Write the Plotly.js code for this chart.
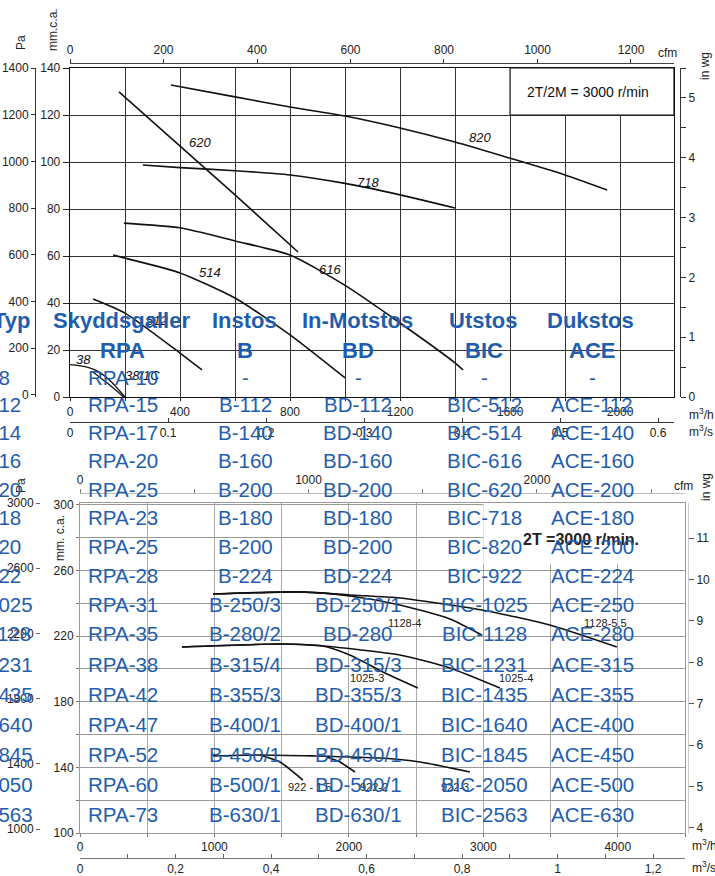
<!DOCTYPE html>
<html><head><meta charset="utf-8">
<script src="https://cdn.plot.ly/plotly-3.0.1.min.js"></script>
<style>html,body{margin:0;padding:0;background:#fff;}#chart{width:715px;height:876px;}</style>
</head><body><div id="chart"></div>
<script>
// ---------- DATA ----------
// Upper chart: flow (m3/h) vs static pressure (mm c.a.)
const c820_q = [367, 600, 800, 1000, 1200, 1400, 1600, 1800, 1953];
const c820_p = [132.8, 127.7, 123.4, 119.6, 114.5, 108.5, 101.6, 94.5, 88.1];
const c718_q = [265, 400, 600, 800, 1000, 1200, 1400];
const c718_p = [98.7, 97.6, 96.3, 94.5, 90.9, 86, 80.4];
const c620_q = [178, 400, 600, 829];
const c620_p = [129.8, 106.8, 86, 61.7];
const c616_q = [196, 400, 600, 800, 1000, 1200, 1400, 1429];
const c616_p = [74, 72, 66.4, 60.4, 47.5, 31.5, 14.5, 11.5];
const c514_q = [157, 200, 400, 600, 800, 1000];
const c514_p = [60.4, 59.1, 52.8, 42.1, 26.4, 8.1];
const c512_q = [84, 200, 400, 480];
const c512_p = [41.7, 35.7, 18.7, 11.5];
const c38_q = [0, 50, 100, 150, 200];
const c38_p = [13.8, 13, 11, 6.5, 0];
const c381_q = [80, 140, 195];
const c381_p = [11, 5.5, 0];

// Lower chart
const c1128_4_q = [989, 1636, 2007, 2379, 2751, 2989];
const c1128_4_p = [245.7, 247, 244.5, 239, 230.5, 220.7];
const c1128_55_q = [989, 1636, 2007, 2379, 2989, 3494, 3993];
const c1128_55_p = [245.7, 247, 245.1, 243.3, 236, 226.8, 213.4];
const c1025_3_q = [758, 1487, 1807, 2007, 2253, 2513];
const c1025_3_p = [213.4, 215.2, 214, 208.5, 198.2, 188.4];
const c1025_4_q = [758, 1487, 1807, 2379, 2751, 3123];
const c1025_4_p = [213.4, 215.2, 214, 208.5, 200.6, 188.4];
const c922_3_q = [989, 1338, 1732, 2230, 2528, 2900];
const c922_3_p = [147, 147.6, 147, 145.7, 143.3, 137.2];
const c922_15_q = [1338, 1487, 1658];
const c922_15_p = [147.6, 143.3, 132.3];
const c922_2_q = [1836, 1933, 2045];
const c922_2_p = [146.3, 143.3, 137.2];

// Tick values
const topQTicks = [0, 200, 400, 600, 800, 1000, 1200, 1400, 1600, 1800, 2000];
const topQLabels = ['0', '', '400', '', '800', '', '1200', '', '1600', '', '2000'];
const topMmTicks = [0, 20, 40, 60, 80, 100, 120, 140];
const topPaTicks = [0, 200, 400, 600, 800, 1000, 1200, 1400];
const topCfmTicks = [0, 200, 400, 600, 800, 1000, 1200];
const topM3sTicks = [0, 0.1, 0.2, 0.3, 0.4, 0.5, 0.6];
const topM3sLabels = ['0', '0.1', '0.2', '0.3', '0.4', '0.5', '0.6'];
const topWgTicks = [0, 0.5, 1, 1.5, 2, 2.5, 3, 3.5, 4, 4.5, 5, 5.5];
const topWgLabels = ['0', '', '1', '', '2', '', '3', '', '4', '', '5', ''];

const botQTicks = [0, 500, 1000, 1500, 2000, 2500, 3000, 3500, 4000, 4500];
const botQLabels = ['0', '', '1000', '', '2000', '', '3000', '', '4000', ''];
const botMmTicks = [100, 120, 140, 160, 180, 200, 220, 240, 260, 280, 300];
const botMmLabels = ['100', '', '140', '', '180', '', '220', '', '260', '', '300'];
const botPaTicks = [1000, 1400, 1800, 2200, 2600, 3000];
const botCfmTicks = [0, 500, 1000, 1500, 2000, 2500];
const botCfmLabels = ['0', '', '1000', '', '2000', ''];
const botM3sTicks = [0, 0.1, 0.2, 0.3, 0.4, 0.5, 0.6, 0.7, 0.8, 0.9, 1.0, 1.1, 1.2];
const botM3sLabels = ['0', '', '0,2', '', '0,4', '', '0,6', '', '0,8', '', '1', '', '1,2'];
const botWgTicks = [4, 5, 6, 7, 8, 9, 10, 11];

// Table
const tblHead = ['Typ', 'Skyddsgaller', 'Instos', 'In-Motstos', 'Utstos', 'Dukstos'];
const tblSub = ['RPA', 'B', 'BD', 'BIC', 'ACE'];
const typ = ['38','512','514','616','620','718','820','922','1025','1128','1231','1435','1640','1845','2050','2563'];
const rpa = ['RPA-10','RPA-15','RPA-17','RPA-20','RPA-25','RPA-23','RPA-25','RPA-28','RPA-31','RPA-35','RPA-38','RPA-42','RPA-47','RPA-52','RPA-60','RPA-73'];
const instos = ['-','B-112','B-140','B-160','B-200','B-180','B-200','B-224','B-250/3','B-280/2','B-315/4','B-355/3','B-400/1','B-450/1','B-500/1','B-630/1'];
const inmot = ['-','BD-112','BD-140','BD-160','BD-200','BD-180','BD-200','BD-224','BD-250/1','BD-280','BD-315/3','BD-355/3','BD-400/1','BD-450/1','BD-500/1','BD-630/1'];
const utstos = ['-','BIC-512','BIC-514','BIC-616','BIC-620','BIC-718','BIC-820','BIC-922','BIC-1025','BIC-1128','BIC-1231','BIC-1435','BIC-1640','BIC-1845','BIC-2050','BIC-2563'];
const dukstos = ['-','ACE-112','ACE-140','ACE-160','ACE-200','ACE-180','ACE-200','ACE-224','ACE-250','ACE-280','ACE-315','ACE-355','ACE-400','ACE-450','ACE-500','ACE-630'];

// ---------- LAYOUT HELPERS ----------
const W = 715, H = 876;
const fx = p => p / W, fy = p => 1 - p / H;
const FONT = 'Liberation Sans, Arial, Helvetica, sans-serif';
const tickFont = {family: FONT, size: 12, color: '#222'};
const BLUE = '#1f5eae';

function curve(q, p, xa, ya, w, shape) {
  return {type: 'scatter', mode: 'lines', x: q, y: p, xaxis: xa, yaxis: ya,
    line: {color: '#111', width: w || 1.6, shape: shape || 'spline', smoothing: 0.6},
    showlegend: false, hoverinfo: 'skip'};
}
function dummy(xa, ya) {
  return {type: 'scatter', mode: 'markers', x: [null], y: [null], xaxis: xa, yaxis: ya,
    showlegend: false, hoverinfo: 'skip'};
}

const traces = [
  curve(c820_q, c820_p, 'x', 'y'), curve(c718_q, c718_p, 'x', 'y'),
  curve(c620_q, c620_p, 'x', 'y', 1.6, 'linear'), curve(c616_q, c616_p, 'x', 'y'),
  curve(c514_q, c514_p, 'x', 'y'), curve(c512_q, c512_p, 'x', 'y'),
  curve(c38_q, c38_p, 'x', 'y', 1.3), curve(c381_q, c381_p, 'x', 'y', 1.3),
  curve(c1128_4_q, c1128_4_p, 'x4', 'y4'), curve(c1128_55_q, c1128_55_p, 'x4', 'y4'),
  curve(c1025_3_q, c1025_3_p, 'x4', 'y4'), curve(c1025_4_q, c1025_4_p, 'x4', 'y4'),
  curve(c922_3_q, c922_3_p, 'x4', 'y4'), curve(c922_15_q, c922_15_p, 'x4', 'y4'),
  curve(c922_2_q, c922_2_p, 'x4', 'y4'),
  dummy('x2', 'y'), dummy('x3', 'y'), dummy('x', 'y2'), dummy('x', 'y3'),
  dummy('x5', 'y4'), dummy('x6', 'y4'), dummy('x4', 'y5'), dummy('x4', 'y6')
];

const base = {zeroline: false, fixedrange: true, tickfont: tickFont, showgrid: false, tickmode: 'array'};

const layout = {
  width: W, height: H, margin: {l: 0, r: 0, t: 0, b: 0, pad: 0},
  paper_bgcolor: '#fff', plot_bgcolor: 'rgba(0,0,0,0)', showlegend: false,
  font: {family: FONT, color: '#222'},
  // ---- upper chart ----
  xaxis: Object.assign({}, base, {domain: [fx(70), fx(674)], range: [0, 2196], anchor: 'y',
    tickvals: topQTicks, ticktext: topQLabels, ticks: 'outside', ticklen: 3, tickcolor: '#222',
    showline: true, linecolor: '#111', linewidth: 1.3, mirror: true,
    showgrid: true, gridcolor: '#333', gridwidth: 1}),
  yaxis: Object.assign({}, base, {domain: [fy(397), fy(68)], range: [0, 140], anchor: 'x',
    tickvals: topMmTicks, ticks: 'outside', ticklen: 6, tickcolor: '#222',
    showline: true, linecolor: '#111', linewidth: 1.3, mirror: true,
    showgrid: true, gridcolor: '#333', gridwidth: 1}),
  xaxis2: Object.assign({}, base, {overlaying: 'x', anchor: 'free', position: fy(63), side: 'top',
    range: [0, 1292], tickvals: topCfmTicks, ticks: 'outside', ticklen: 4, tickcolor: '#333',
    showline: true, linecolor: '#444', linewidth: 1}),
  xaxis3: Object.assign({}, base, {overlaying: 'x', anchor: 'free', position: fy(422), side: 'bottom',
    range: [0, 0.6163], tickvals: topM3sTicks, ticktext: topM3sLabels, ticks: 'inside', ticklen: 4,
    tickcolor: '#333', showline: true, linecolor: '#333', linewidth: 1}),
  yaxis2: Object.assign({}, base, {overlaying: 'y', anchor: 'free', position: fx(35), side: 'left',
    range: [-9, 1400.5], tickvals: topPaTicks, ticks: 'outside', ticklen: 4, tickcolor: '#333',
    showline: true, linecolor: '#333', linewidth: 1}),
  yaxis3: Object.assign({}, base, {overlaying: 'y', anchor: 'free', position: fx(680), side: 'right',
    range: [0, 5.5], tickvals: topWgTicks, ticktext: topWgLabels, ticks: 'outside', ticklen: 5,
    tickcolor: '#333', showline: true, linecolor: '#333', linewidth: 1}),
  // ---- lower chart ----
  xaxis4: Object.assign({}, base, {domain: [fx(80), fx(685)], range: [0, 4500], anchor: 'y4',
    tickvals: botQTicks, ticktext: botQLabels, ticks: 'outside', ticklen: 3, tickcolor: '#777',
    showline: true, linecolor: '#999', linewidth: 1, mirror: true,
    showgrid: true, gridcolor: '#aaa', gridwidth: 1}),
  yaxis4: Object.assign({}, base, {domain: [fy(833), fy(503)], range: [100, 301.2], anchor: 'x4',
    tickvals: botMmTicks, ticktext: botMmLabels, ticks: 'outside', ticklen: 3, tickcolor: '#777',
    showline: true, linecolor: '#999', linewidth: 1, mirror: true,
    showgrid: true, gridcolor: '#999', gridwidth: 1}),
  xaxis5: Object.assign({}, base, {overlaying: 'x4', anchor: 'free', position: fy(493), side: 'top',
    range: [0, 2648], tickvals: botCfmTicks, ticktext: botCfmLabels, ticks: 'outside', ticklen: 4,
    tickcolor: '#777', showline: true, linecolor: '#bbb', linewidth: 1}),
  xaxis6: Object.assign({}, base, {overlaying: 'x4', anchor: 'free', position: fy(858), side: 'bottom',
    range: [0, 1.267], tickvals: botM3sTicks, ticktext: botM3sLabels, ticks: 'inside', ticklen: 4,
    tickcolor: '#666', showline: true, linecolor: '#777', linewidth: 1}),
  yaxis5: Object.assign({}, base, {overlaying: 'y4', anchor: 'free', position: fx(40), side: 'left',
    range: [975.5, 3000.5], tickvals: botPaTicks, ticks: 'outside', ticklen: 4, tickcolor: '#666',
    showline: false}),
  yaxis6: Object.assign({}, base, {overlaying: 'y4', anchor: 'free', position: fx(688), side: 'right',
    range: [3.879, 11.845], tickvals: botWgTicks, ticks: 'outside', ticklen: 5, tickcolor: '#555',
    showline: true, linecolor: '#ccc', linewidth: 1}),
  shapes: [
    {type: 'rect', xref: 'x', yref: 'y', x0: 1600, x1: 2196, y0: 120, y1: 140,
      fillcolor: '#fff', line: {color: '#111', width: 1.2}, layer: 'above'},
    {type: 'rect', xref: 'x4', yref: 'y4', x0: 3000, x1: 4500, y0: 264, y1: 301.2,
      fillcolor: '#fff', line: {width: 0}, layer: 'above'}
  ],
  annotations: []
};

const A = layout.annotations;
function txt(text, x, y, opt) {
  A.push(Object.assign({text: text, xref: 'paper', yref: 'paper', x: fx(x), y: fy(y),
    showarrow: false, xanchor: 'center', yanchor: 'middle',
    font: {family: FONT, size: 12, color: '#222'}}, opt || {}));
}
// axis titles
txt('Pa', 21, 43, {textangle: -90});
txt('mm.c.a.', 53, 30, {textangle: -90});
txt('cfm', 667, 53);
txt('in wg', 705, 66, {textangle: -90});
txt('m<sup>3</sup>/h', 687, 414, {xanchor: 'left'});
txt('m<sup>3</sup>/s', 687, 431, {xanchor: 'left'});
txt('Pa', 21, 486, {textangle: -90});
txt('mm. c.a.', 60, 538, {textangle: -90});
txt('cfm', 683, 486);
txt('in wg', 706, 487, {textangle: -90});
txt('m<sup>3</sup>/h', 690, 845, {xanchor: 'left'});
txt('m<sup>3</sup>/s', 690, 867, {xanchor: 'left'});
// boxes
txt('2T/2M = 3000 r/min', 588, 92, {font: {family: FONT, size: 14, color: '#111'}});
txt('<b>2T =3000 r/min.</b>', 581, 539, {font: {family: FONT, size: 16, color: '#222'}});
// curve labels (upper)
const itf = {family: FONT, size: 13, color: '#111'};
txt('<i>620</i>', 200, 142, {font: itf});
txt('<i>718</i>', 368, 182, {font: itf});
txt('<i>820</i>', 480, 137, {font: itf});
txt('<i>514</i>', 210, 272, {font: itf});
txt('<i>616</i>', 330, 269, {font: itf});
txt('<i>512</i>', 157, 320, {font: itf});
txt('<i>38</i>', 83, 359, {font: itf});
txt('<i>38/1C</i>', 142, 375, {font: itf});
// curve labels (lower)
const lf = {family: FONT, size: 11, color: '#222'};
txt('1128-4', 404, 623, {font: lf});
txt('1128-5.5', 605, 623, {font: lf});
txt('1025-3', 367, 678, {font: lf});
txt('1025-4', 516, 678, {font: lf});
txt('922 - 1.5', 309, 787, {font: lf});
txt('922-2', 374, 787, {font: lf});
txt('922-3', 455, 787, {font: lf});

// table
const hf = {family: FONT, size: 22, color: BLUE};
const df = {family: FONT, size: 20.5, color: BLUE};
const headX = [-9, 121, 244, 357, 483, 590];
const colX = [123, 245, 358, 484, 592];
const rowY = [377, 405, 432, 461, 489, 517, 546, 575, 604, 633, 664, 694, 724, 754, 784, 814];
tblHead.forEach((t, i) => txt('<b>' + t + '</b>', headX[i], 320,
  {font: hf, xanchor: i === 0 ? 'left' : 'center'}));
tblSub.forEach((t, i) => txt('<b>' + t + '</b>', colX[i], 351, {font: hf}));
const cols = [rpa, instos, inmot, utstos, dukstos];
typ.forEach((t, r) => {
  txt(t, -15, rowY[r], {font: df, xanchor: 'left'});
  cols.forEach((c, i) => txt(c[r], colX[i], rowY[r], {font: df}));
});

Plotly.newPlot('chart', traces, layout, {staticPlot: true, displayModeBar: false});
</script></body></html>
